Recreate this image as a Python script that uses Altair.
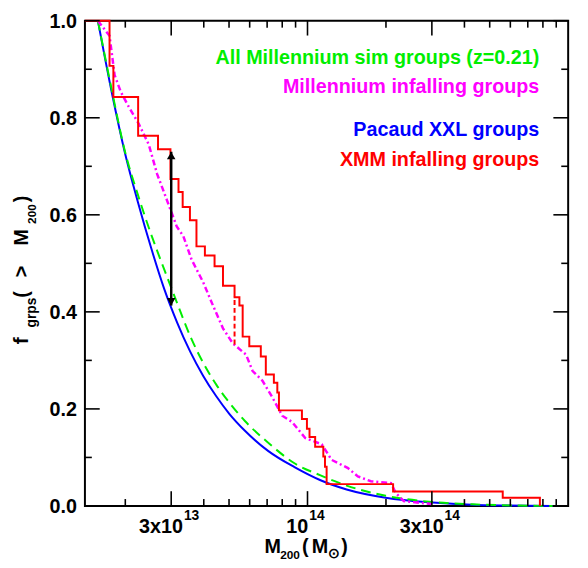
import altair as alt
import pandas as pd

# ---------------- data ----------------
pacaud_mass = [1.57e13, 1.778e13, 1.995e13, 2.239e13, 2.512e13, 2.818e13, 3.162e13, 3.548e13,
               3.981e13, 4.467e13, 5.012e13, 5.754e13, 7.079e13, 8.913e13, 1.122e14, 1.413e14,
               1.995e14, 3.02e14, 4.467e14, 8.71e14]
pacaud_frac = [1.0, 0.85, 0.727, 0.625, 0.532, 0.448, 0.378, 0.318,
               0.268, 0.226, 0.19, 0.155, 0.113, 0.08, 0.053, 0.034,
               0.017, 0.007, 0.002, 0.0]

mill_all_mass = [1.57e13, 1.778e13, 1.995e13, 2.239e13, 2.512e13, 2.818e13, 3.162e13, 3.548e13,
                 3.981e13, 4.467e13, 5.012e13, 5.754e13, 7.079e13, 8.913e13, 1.122e14, 1.413e14,
                 1.995e14, 3.02e14, 4.467e14, 8.71e14]
mill_all_frac = [1.0, 0.855, 0.73, 0.64, 0.56, 0.488, 0.418, 0.35,
                 0.295, 0.25, 0.213, 0.175, 0.13, 0.088, 0.063, 0.042,
                 0.021, 0.008, 0.003, 0.0]

mill_inf_mass = [1.57e13, 1.74e13, 1.82e13, 1.92e13, 2.04e13, 2.26e13, 2.46e13, 2.65e13,
                 2.89e13, 3.15e13, 3.34e13, 3.59e13, 3.98e13, 4.34e13, 4.74e13, 5.17e13,
                 5.81e13, 6.16e13, 6.72e13, 7.33e13, 8.00e13, 8.73e13, 9.80e13, 1.134e14,
                 1.237e14, 1.43e14, 1.56e14, 1.75e14, 2.09e14, 2.18e14, 2.34e14, 2.63e14,
                 2.99e14]
mill_inf_frac = [1.0, 0.969, 0.888, 0.854, 0.827, 0.786, 0.745, 0.684,
                 0.630, 0.576, 0.556, 0.508, 0.461, 0.413, 0.366, 0.335,
                 0.312, 0.278, 0.258, 0.224, 0.186, 0.173, 0.140, 0.127,
                 0.095, 0.078, 0.061, 0.051, 0.047, 0.027, 0.010, 0.007,
                 0.004]

xmm_mass = [1.40e13, 1.74e13, 1.80e13, 2.24e13, 2.67e13, 2.98e13, 3.20e13, 3.32e13,
            3.54e13, 3.75e13, 4.04e13, 4.40e13, 4.74e13, 5.25e13, 5.48e13, 5.64e13,
            5.98e13, 6.62e13, 6.92e13, 7.43e13, 7.66e13, 7.77e13, 9.52e13, 9.95e13,
            1.018e14, 1.07e14, 1.15e14, 1.167e14, 1.184e14, 2.13e14, 5.61e14, 7.79e14]
xmm_frac = [1.0, 0.907, 0.843, 0.763, 0.735, 0.674, 0.647, 0.616,
            0.589, 0.535, 0.516, 0.494, 0.454, 0.430, 0.413, 0.349,
            0.329, 0.308, 0.271, 0.254, 0.234, 0.197, 0.179, 0.159,
            0.142, 0.122, 0.102, 0.081, 0.045, 0.030, 0.017, 0.0]

arrow_mass = [3e13]
arrow_low = [0.413]
arrow_high = [0.730]
arrow_head_top = [0.722]
arrow_head_bottom = [0.421]

median_mass = [5.25e13]
median_low = [0.333]
median_high = [0.431]

legend_labels = ["All Millennium sim groups (z=0.21)", "Millennium infalling groups",
                 "Pacaud XXL groups", "XMM infalling groups"]
legend_colors = ["#00ee00", "#ff00ff", "#0000ff", "#ff0000"]

x_major = [3e13, 1e14, 3e14]
x_major_base = ["3x10", "10", "3x10"]
x_major_sup = ["13", "14", "14"]
x_minor = [2e13, 4e13, 5e13, 6e13, 7e13, 8e13, 9e13,
           2e14, 4e14, 5e14, 6e14, 7e14, 8e14, 9e14]
y_major = [0.0, 0.2, 0.4, 0.6, 0.8, 1.0]
y_minor = [0.1, 0.3, 0.5, 0.7, 0.9]
x_domain = [1.4e13, 1e15]

# ---------------- layout / style ----------------
W, H = 490, 492
FONT = "Liberation Sans"
MAJOR, MINOR = 15, 7
xs = alt.Scale(type="log", domain=x_domain, nice=False)
ys = alt.Scale(domain=[0, 1], nice=False)

blue_df = pd.DataFrame({"M": pacaud_mass, "f": pacaud_frac})
green_df = pd.DataFrame({"M": mill_all_mass, "f": mill_all_frac})
mag_df = pd.DataFrame({"M": mill_inf_mass, "f": mill_inf_frac})
red_df = pd.DataFrame({"M": xmm_mass, "f": xmm_frac})

X = lambda field: alt.X(field, scale=xs, axis=None, title=None)
Y = lambda field: alt.Y(field, scale=ys, axis=None, title=None)

blue = alt.Chart(blue_df).mark_line(interpolate="monotone", color="#0000ff",
                                    strokeWidth=2).encode(x=X("M:Q"), y=Y("f:Q"))

green = alt.Chart(green_df).mark_line(interpolate="monotone", color="#00ee00", strokeWidth=2,
                                      strokeDash=[10, 6]).encode(x=X("M:Q"), y=Y("f:Q"))

magenta = alt.Chart(mag_df).mark_line(color="#ff00ff", strokeWidth=2.5,
                                      strokeDash=[6, 3, 2, 3]).encode(x=X("M:Q"), y=Y("f:Q"))

red = alt.Chart(red_df).mark_line(interpolate="step-after", color="#ff0000",
                                  strokeWidth=2).encode(x=X("M:Q"), y=Y("f:Q"))

median = alt.Chart(pd.DataFrame({"M": median_mass, "lo": median_low, "hi": median_high})).mark_rule(
    color="#ff0000", strokeWidth=2, strokeDash=[5, 3]).encode(
    x=X("M:Q"), y=Y("lo:Q"), y2="hi:Q")

arrow_df = pd.DataFrame({"M": arrow_mass, "lo": arrow_low, "hi": arrow_high,
                         "top": arrow_head_top, "bot": arrow_head_bottom})
arrow = alt.Chart(arrow_df).mark_rule(color="black", strokeWidth=2.5).encode(
    x=X("M:Q"), y=Y("lo:Q"), y2="hi:Q")
head_top = alt.Chart(arrow_df).mark_point(shape="triangle-up", filled=True, size=75,
                                          color="black", opacity=1).encode(x=X("M:Q"), y=Y("top:Q"))
head_bot = alt.Chart(arrow_df).mark_point(shape="triangle-down", filled=True, size=75,
                                          color="black", opacity=1).encode(x=X("M:Q"), y=Y("bot:Q"))

layers = [blue, green, magenta, red, median, arrow, head_top, head_bot]

# inward-pointing frame ticks on all four sides
for vals, ln in ((x_major, MAJOR), (x_minor, MINOR)):
    df = pd.DataFrame({"v": vals})
    layers.append(alt.Chart(df).mark_rule(color="black", strokeWidth=1.6).encode(
        x=X("v:Q"), y=alt.value(H), y2=alt.value(H - ln)))
    layers.append(alt.Chart(df).mark_rule(color="black", strokeWidth=1.6).encode(
        x=X("v:Q"), y=alt.value(0), y2=alt.value(ln)))
for vals, ln in ((y_major, MAJOR), (y_minor, MINOR)):
    df = pd.DataFrame({"v": vals})
    layers.append(alt.Chart(df).mark_rule(color="black", strokeWidth=1.6).encode(
        y=Y("v:Q"), x=alt.value(0), x2=alt.value(ln)))
    layers.append(alt.Chart(df).mark_rule(color="black", strokeWidth=1.6).encode(
        y=Y("v:Q"), x=alt.value(W), x2=alt.value(W - ln)))

# y tick labels
ylab_df = pd.DataFrame({"v": y_major, "t": [f"{v:.1f}" for v in y_major]})
layers.append(alt.Chart(ylab_df).mark_text(align="right", baseline="middle", font=FONT,
                                           fontWeight="bold", fontSize=20, color="black",
                                           dy=1).encode(
    y=Y("v:Q"), x=alt.value(-8), text="t:N"))

# x tick labels with superscripts
for v, b, s in zip(x_major, x_major_base, x_major_sup):
    wb = 11.1 * len(b)
    ws = 7.8 * len(s)
    total = wb + 1 + ws
    dxb = -total / 2 + wb - 2
    df = pd.DataFrame({"M": [v], "b": [b], "s": [s]})
    layers.append(alt.Chart(df).mark_text(align="right", baseline="alphabetic", dx=dxb,
                                          font=FONT, fontWeight="bold", fontSize=20,
                                          color="black").encode(
        x=X("M:Q"), y=alt.value(H + 27), text="b:N"))
    layers.append(alt.Chart(df).mark_text(align="left", baseline="alphabetic", dx=dxb + 1,
                                          font=FONT, fontWeight="bold", fontSize=14,
                                          color="black").encode(
        x=X("M:Q"), y=alt.value(H + 14), text="s:N"))

one = pd.DataFrame({"k": [0]})


def label(txt, x, y, size, color="black", align="left", angle=0):
    kw = dict(text=txt, align=align, baseline="alphabetic", font=FONT, fontWeight="bold",
              fontSize=size, color=color)
    if angle:
        kw["angle"] = angle
    return alt.Chart(one).mark_text(**kw).encode(x=alt.value(x), y=alt.value(y))


# legend texts
for txt, col, yy in zip(legend_labels, legend_colors, [43.7, 73.7, 117, 147]):
    layers.append(label(txt, 460.7, yy, 20, color=col, align="right"))

# x-axis title: M_200 ( M_sun )
layers += [
    label("M", 182, 540, 20),
    label("200", 198, 546, 12),
    label("(", 220, 540, 20),
    label("M", 230, 540, 20),
    label("\u2299", 246, 545, 14),
    label(")", 260, 540, 20),
]

# y-axis title: f_grps ( > M_200 )  (rotated)
layers += [
    label("f", -58, 328, 21, angle=270),
    label("grps", -50, 311, 14, angle=270),
    label("(", -58, 281, 20, angle=270),
    label(">", -58, 260, 20, angle=270),
    label("M", -58, 228, 20, angle=270),
    label("200", -50, 206, 12, angle=270),
    label(")", -58, 184, 20, angle=270),
]

chart = alt.layer(*layers).properties(
    width=W, height=H,
    autosize=alt.AutoSizeParams(type="none"),
    padding={"left": 78, "top": 9, "right": 12, "bottom": 59},
    background="white",
).configure_view(stroke="black", strokeWidth=2).configure_axis(grid=False)

chart.save("out.html", embed_options={"renderer": "svg", "actions": False})
